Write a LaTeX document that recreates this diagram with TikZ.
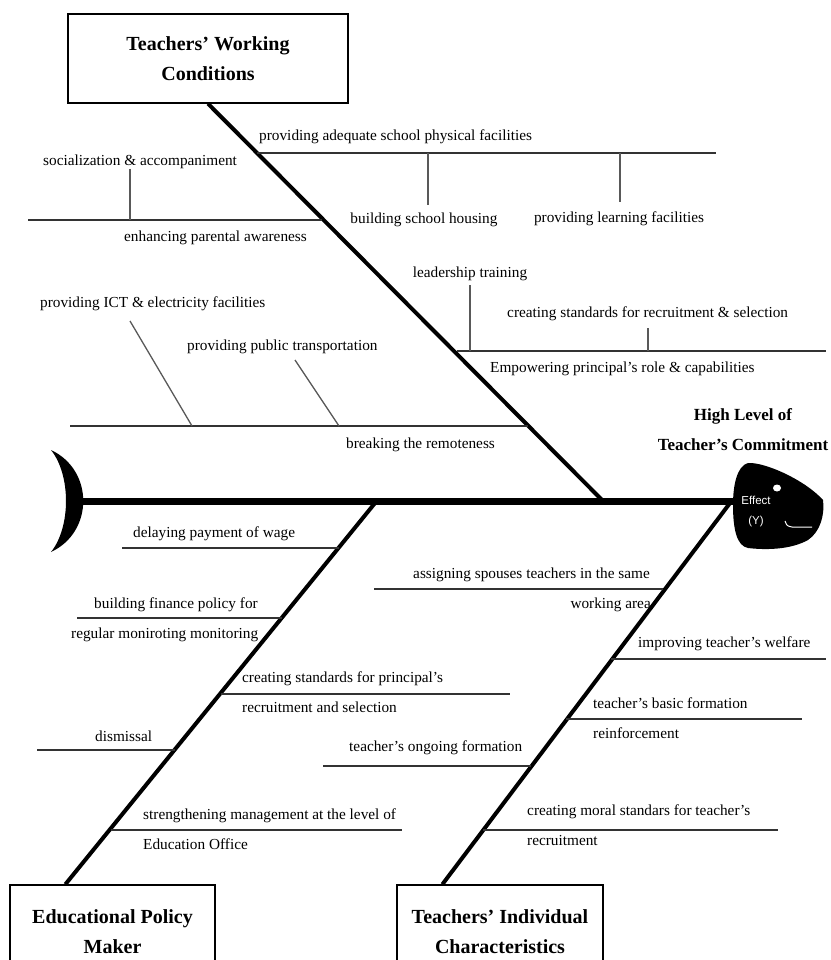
\documentclass[tikz,border=0pt]{standalone}
\usepackage{fontspec}
\setmainfont{Liberation Serif}
\newfontfamily\headsans{Liberation Sans}

\begin{document}
\begin{tikzpicture}[x=1pt, y=-1pt, line cap=butt,
  causebox/.style={draw, line width=1.3pt, align=center, font=\fontsize{20}{30}\selectfont\bfseries},
  bone/.style={line width=4pt},
  rib/.style={line width=1.7pt, black!80},
  twig/.style={line width=1.3pt, black!65},
  lbl/.style={inner sep=0pt, anchor=base west, font=\fontsize{15.3}{18}\selectfont}]
  \useasboundingbox (0,0) rectangle (830,960);

  % cause boxes
  \node[causebox, minimum width=280pt, minimum height=89pt] (work) at (208,58.5) {Teachers’ Working\\Conditions};
  \node[causebox, minimum width=205pt, minimum height=94pt] (policy) at (112.5,932) {Educational Policy\\Maker};
  \node[causebox, minimum width=206pt, minimum height=94pt] (indiv) at (500,932) {Teachers’ Individual\\Characteristics};

  % spine
  \coordinate (tail) at (82,501);
  \coordinate (mouth) at (735,501);
  \draw[line width=7pt] (tail) -- (mouth);
  \fill (51,450) .. controls (94,470) and (94,532) .. (51,552)
    .. controls (71,527) and (71,475) .. (51,450);

  % head
  \fill (733,505) .. controls (733,485) and (737,466) .. (748,463)
    .. controls (765,462) and (805,480) .. (823,500)
    .. controls (825,515) and (820,532) .. (808,540)
    .. controls (790,550) and (765,550) .. (748,548)
    .. controls (737,546) and (733,530) .. cycle;
  \fill[white] (777,488) ellipse [x radius=4, y radius=3.5];
  \draw[white, line width=1pt] (785,521) .. controls (787,526) .. (792,527) -- (812,527);
  \node[font=\headsans\fontsize{11.5}{20}\selectfont, text=white, align=center, inner sep=0pt] (fx) at (756,512) {Effect\\(Y)};
  \node[font=\fontsize{17}{30}\selectfont\bfseries, align=center, inner sep=0pt] (goal) at (743,430) {High Level of\\Teacher’s Commitment};

  % bones
  \coordinate (jwork) at (603,501);
  \coordinate (jpolicy) at (375,503);
  \coordinate (jindiv) at (730,503);
  \draw[bone] (work.south) -- (jwork);
  \draw[bone] (jpolicy) -- ([xshift=56pt]policy.north west);
  \draw[bone] (jindiv) -- ([xshift=46pt]indiv.north west);

  % working conditions
  \draw[rib] (257,153) -- (716,153);
  \draw[twig] (428,153) -- (428,205);
  \draw[twig] (620,153) -- (620,202);
  \node[lbl] (phys) at (259,141) {providing adequate school physical facilities};
  \node[lbl, anchor=base] (housing) at (424,223) {building school housing};
  \node[lbl, anchor=base] (learning) at (619,222) {providing learning facilities};
  \draw[rib] (28,220) -- (322,220);
  \draw[twig] (130,169) -- (130,220);
  \node[lbl] (parent) at (124,241) {enhancing parental awareness};
  \node[lbl] (social) at (43,165) {socialization \& accompaniment};
  \draw[rib] (457,351) -- (826,351);
  \draw[twig] (470,285) -- (470,351);
  \draw[twig] (648,328) -- (648,351);
  \node[lbl] (empower) at (490,372) {Empowering principal’s role \& capabilities};
  \node[lbl, anchor=base] (leader) at (470,277) {leadership training};
  \node[lbl] (recsel) at (507,317) {creating standards for recruitment \& selection};
  \draw[rib] (70,426) -- (528,426);
  \draw[twig] (130,321) -- (192,426);
  \draw[twig] (295,360) -- (339,426);
  \node[lbl] (remote) at (346,448) {breaking the remoteness};
  \node[lbl] (ict) at (40,307) {providing ICT \& electricity facilities};
  \node[lbl] (transport) at (187,350) {providing public transportation};

  % policy maker
  \draw[rib] (122,548) -- (339,548);
  \node[lbl] (wage) at (133,537) {delaying payment of wage};
  \draw[rib] (77,618) -- (282,618);
  \node[lbl] (finance) at (94,608) {building finance policy for};
  \node[lbl] (finance2) at (71,638) {regular moniroting monitoring};
  \draw[rib] (221,694) -- (510,694);
  \node[lbl] (princ) at (242,682) {creating standards for principal’s};
  \node[lbl] (princ2) at (242,712) {recruitment and selection};
  \draw[rib] (37,750) -- (175,750);
  \node[lbl] (dismiss) at (95,741) {dismissal};
  \draw[rib] (111,830) -- (402,830);
  \node[lbl] (office) at (143,819) {strengthening management at the level of};
  \node[lbl] (office2) at (143,849) {Education Office};

  % individual characteristics
  \draw[rib] (374,589) -- (663,589);
  \node[lbl] (spouse) at (413,578) {assigning spouses teachers in the same};
  \node[lbl, anchor=base east] (spouse2) at (651,608) {working area};
  \draw[rib] (611,659) -- (826,659);
  \node[lbl] (welfare) at (638,647) {improving teacher’s welfare};
  \draw[rib] (566,719) -- (802,719);
  \node[lbl] (basic) at (593,708) {teacher’s basic formation};
  \node[lbl] (basic2) at (593,738) {reinforcement};
  \draw[rib] (323,766) -- (531,766);
  \node[lbl] (ongoing) at (349,751) {teacher’s ongoing formation};
  \draw[rib] (483,830) -- (778,830);
  \node[lbl] (moral) at (527,815) {creating moral standars for teacher’s};
  \node[lbl] (moral2) at (527,845) {recruitment};
\end{tikzpicture}
\end{document}
